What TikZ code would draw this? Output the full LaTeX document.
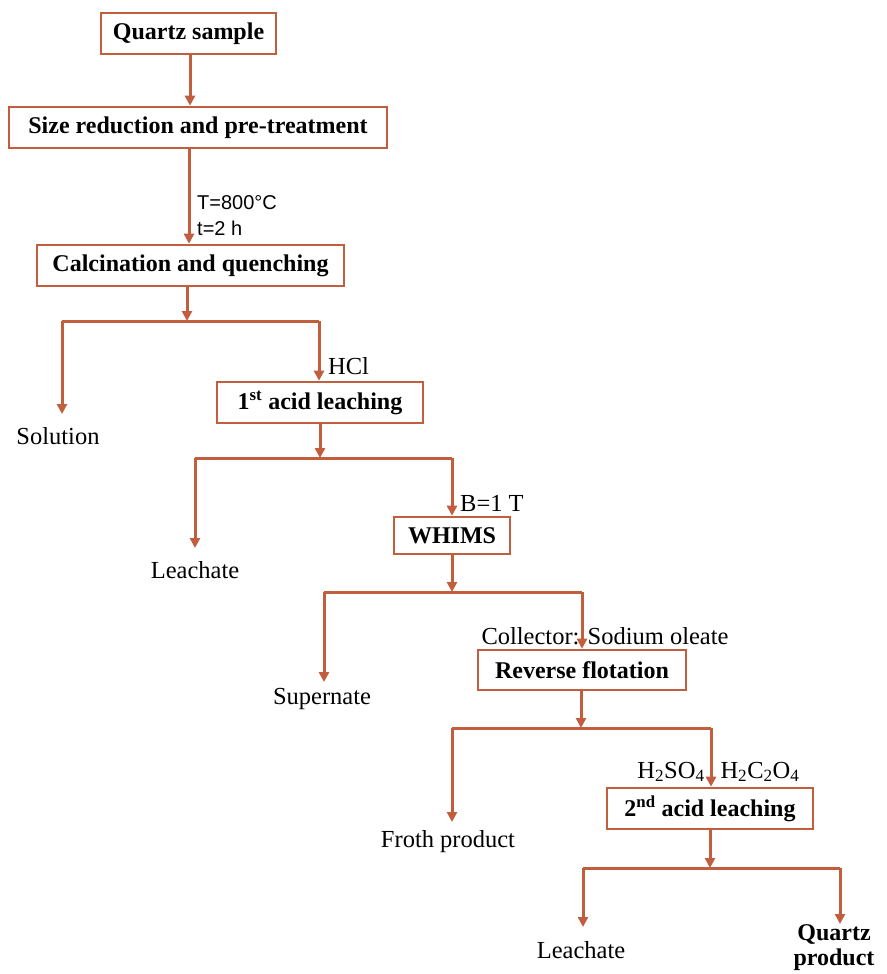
\documentclass[tikz,border=0pt]{standalone}
\usepackage{fontspec}
\setmainfont{Liberation Serif}
\newfontfamily\lsans{Liberation Sans}
\usetikzlibrary{arrows.meta}
\definecolor{flow}{RGB}{192,94,62}
\tikzset{
  x=1pt, y=-1pt,
  procbox/.style={draw=flow, line width=2.6pt, inner sep=0pt, font=\fontsize{24}{28}\selectfont\bfseries},
  link/.style={draw=flow, line width=3pt, -{Triangle[width=10pt,length=10pt]}},
  plain/.style={draw=flow, line width=3pt},
  lbl/.style={inner sep=0pt, font=\fontsize{24.5}{27}\selectfont},
}
\begin{document}
\begin{tikzpicture}
\useasboundingbox (0,0) rectangle (886,974);
% boxes
\node[procbox, minimum width=175pt, minimum height=41pt] (qs) at (188.5,33.5) {Quartz sample};
\node[procbox, minimum width=378pt, minimum height=41pt] (sr) at (198,127.5) {Size reduction and pre-treatment};
\node[procbox, minimum width=307pt, minimum height=41pt] (cq) at (190.5,265.5) {Calcination and quenching};
\node[procbox, minimum width=206pt, minimum height=41pt] (al1) at (320,402.5) {1\textsuperscript{st} acid leaching};
\node[procbox, minimum width=116pt, minimum height=37pt] (wh) at (452,535.5) {WHIMS};
\node[procbox, minimum width=208pt, minimum height=40pt] (rf) at (582,670) {Reverse flotation};
\node[procbox, minimum width=206pt, minimum height=41pt] (al2) at (710,808.5) {2\textsuperscript{nd} acid leaching};
% outputs
\node[lbl] (sol) at (58,436) {Solution};
\node[lbl] (lea1) at (195,570) {Leachate};
\node[lbl] (sup) at (322,699) {Supernate};
\node[lbl] (fro) at (448,842) {Froth product};
\node[lbl] (lea2) at (581,950) {Leachate};
\node[lbl, font=\fontsize{24}{25}\selectfont\bfseries, align=center] (qp) at (834,948) {Quartz\\product};
% condition labels
\node[lbl, anchor=west, align=left, font=\lsans\fontsize{20}{26}\selectfont] (cond1) at (197,216) {T=800°C\\t=2 h};
\node[lbl, anchor=west] (hcl) at (328,366) {HCl};
\node[lbl, anchor=west] (bt) at (460,503) {B=1 T};
\node[lbl] (col) at (605,636) {Collector: Sodium oleate};
\node[lbl] (h2so4) at (671,772) {H\textsubscript{2}SO\textsubscript{4}};
\node[lbl] (h2c2o4) at (760,772) {H\textsubscript{2}C\textsubscript{2}O\textsubscript{4}};
% branch coordinates
\coordinate (b1) at (187,321);
\coordinate (b1l) at (62,321);
\coordinate (b1r) at (319,321);
\coordinate (b2) at (320,458);
\coordinate (b2l) at (195,458);
\coordinate (b2r) at (452,458);
\coordinate (b3) at (452,592);
\coordinate (b3l) at (324,592);
\coordinate (b3r) at (582,592);
\coordinate (b4) at (581,728);
\coordinate (b4l) at (452,728);
\coordinate (b4r) at (711,728);
\coordinate (b5) at (710,868);
\coordinate (b5l) at (583,868);
\coordinate (b5r) at (840,868);
\coordinate (e1) at (62,414);
\coordinate (e2) at (195,548);
\coordinate (e3) at (324,682);
\coordinate (e4) at (452,822);
\coordinate (e5) at (583,927);
\coordinate (e6) at (840,924);
\coordinate (v1) at (190,0);
\coordinate (v2) at (189,0);
% connectors
\draw[link] (qs.south -| v1) -- (sr.north -| v1);
\draw[link] (sr.south -| v2) -- (cq.north -| v2);
\draw[link] (cq.south -| b1) -- (b1);
\draw[plain] (b1l) -- (b1r);
\draw[link] (b1l) -- (e1);
\draw[link] (b1r) -- (al1.north -| b1r);
\draw[link] (al1.south -| b2) -- (b2);
\draw[plain] (b2l) -- (b2r);
\draw[link] (b2l) -- (e2);
\draw[link] (b2r) -- (wh.north -| b2r);
\draw[link] (wh.south -| b3) -- (b3);
\draw[plain] (b3l) -- (b3r);
\draw[link] (b3l) -- (e3);
\draw[link] (b3r) -- (rf.north -| b3r);
\draw[link] (rf.south -| b4) -- (b4);
\draw[plain] (b4l) -- (b4r);
\draw[link] (b4l) -- (e4);
\draw[link] (b4r) -- (al2.north -| b4r);
\draw[link] (al2.south -| b5) -- (b5);
\draw[plain] (b5l) -- (b5r);
\draw[link] (b5l) -- (e5);
\draw[link] (b5r) -- (e6);
\end{tikzpicture}
\end{document}
